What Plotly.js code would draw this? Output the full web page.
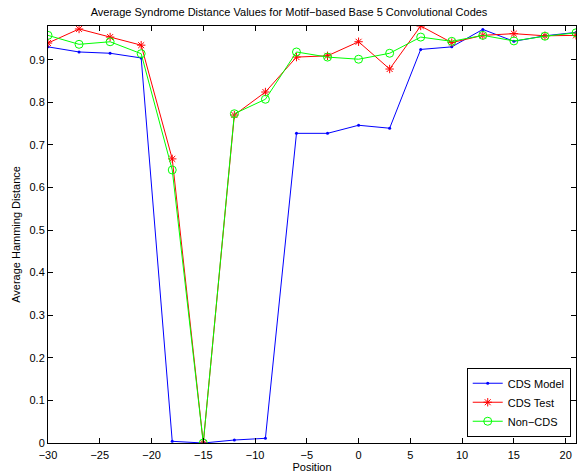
<!DOCTYPE html>
<html>
<head>
<meta charset="utf-8">
<script src="https://cdn.plot.ly/plotly-3.0.1.min.js"></script>
<style>
  html, body { margin: 0; padding: 0; background: #fff; }
  #chart { width: 578px; height: 475px; }
</style>
</head>
<body>
<div id="chart"></div>
<script>
// Sequence positions relative to the motif
const positions = [-30, -27, -24, -21, -18, -15, -12, -9, -6, -3, 0, 3, 6, 9, 12, 15, 18, 21];

// Average Hamming distance per position
const cdsModel = [0.930, 0.918, 0.915, 0.904, 0.004, 0.000, 0.007, 0.011, 0.727, 0.727,
                  0.746, 0.739, 0.924, 0.930, 0.971, 0.943, 0.956, 0.964];
const cdsTest  = [0.939, 0.972, 0.953, 0.934, 0.667, 0.000, 0.770, 0.824, 0.906, 0.909,
                  0.942, 0.878, 0.979, 0.940, 0.957, 0.961, 0.956, 0.957];
const nonCds   = [0.957, 0.936, 0.942, 0.914, 0.641, 0.000, 0.773, 0.807, 0.918, 0.906,
                  0.901, 0.915, 0.953, 0.943, 0.957, 0.944, 0.955, 0.963];

const seriesNames = ['CDS Model', 'CDS Test', 'Non\u2212CDS'];
const xTicks = [-30, -25, -20, -15, -10, -5, 0, 5, 10, 15, 20];
const yTicks = [0, 0.1, 0.2, 0.3, 0.4, 0.5, 0.6, 0.7, 0.8, 0.9];

const font = 'Liberation Sans, Arial, Helvetica, sans-serif';

const traces = [
  {
    x: positions, y: cdsModel, name: seriesNames[0], mode: 'lines+markers',
    line: { color: '#0000ff', width: 1 },
    marker: { color: '#0000ff', size: 3, symbol: 'circle' }
  },
  {
    x: positions, y: cdsTest, name: seriesNames[1], mode: 'lines+markers',
    line: { color: '#ff0000', width: 1 },
    marker: { color: '#ff0000', size: 7, symbol: 'asterisk-open', line: { color: '#ff0000', width: 1 } }
  },
  {
    x: positions, y: nonCds, name: seriesNames[2], mode: 'lines+markers',
    line: { color: '#00ff00', width: 1 },
    marker: { color: '#00ff00', size: 8, symbol: 'circle-open', line: { color: '#00ff00', width: 1 } }
  }
];

const axisCommon = {
  showline: true, linecolor: '#000', linewidth: 1, mirror: 'ticks',
  ticks: 'inside', ticklen: 5, tickcolor: '#000', tickwidth: 1,
  showgrid: false, zeroline: false,
  tickfont: { family: font, size: 11, color: '#000' }
};

const layout = {
  width: 578, height: 475,
  margin: { l: 48, r: 2, t: 26, b: 32 },
  paper_bgcolor: '#fff', plot_bgcolor: '#fff',
  font: { family: font, size: 11, color: '#000' },
  title: {
    text: 'Average Syndrome Distance Values for Motif\u2212based Base 5 Convolutional Codes',
    font: { family: font, size: 11, color: '#000' },
    x: 0.5, xanchor: 'center', y: 0.975, yanchor: 'middle'
  },
  xaxis: Object.assign({}, axisCommon, {
    range: [-30, 21], tickmode: 'array', tickvals: xTicks,
    ticklabelstandoff: 2,
    title: { text: 'Position', font: { family: font, size: 11 }, standoff: 0 }
  }),
  yaxis: Object.assign({}, axisCommon, {
    range: [0, 0.979], tickmode: 'array', tickvals: yTicks,
    ticktext: yTicks.map(v => v === 0 ? '0' : v.toFixed(1)),
    title: { text: 'Average Hamming Distance', font: { family: font, size: 11 }, standoff: 6 }
  }),
  legend: {
    x: 0.99, y: 0.015, xanchor: 'right', yanchor: 'bottom',
    bgcolor: '#fff', bordercolor: '#000', borderwidth: 1,
    font: { family: font, size: 11, color: '#000' },
    itemwidth: 30, tracegroupgap: 0
  },
  showlegend: true
};

Plotly.newPlot('chart', traces, layout, { displayModeBar: false, staticPlot: true });
</script>
</body>
</html>
